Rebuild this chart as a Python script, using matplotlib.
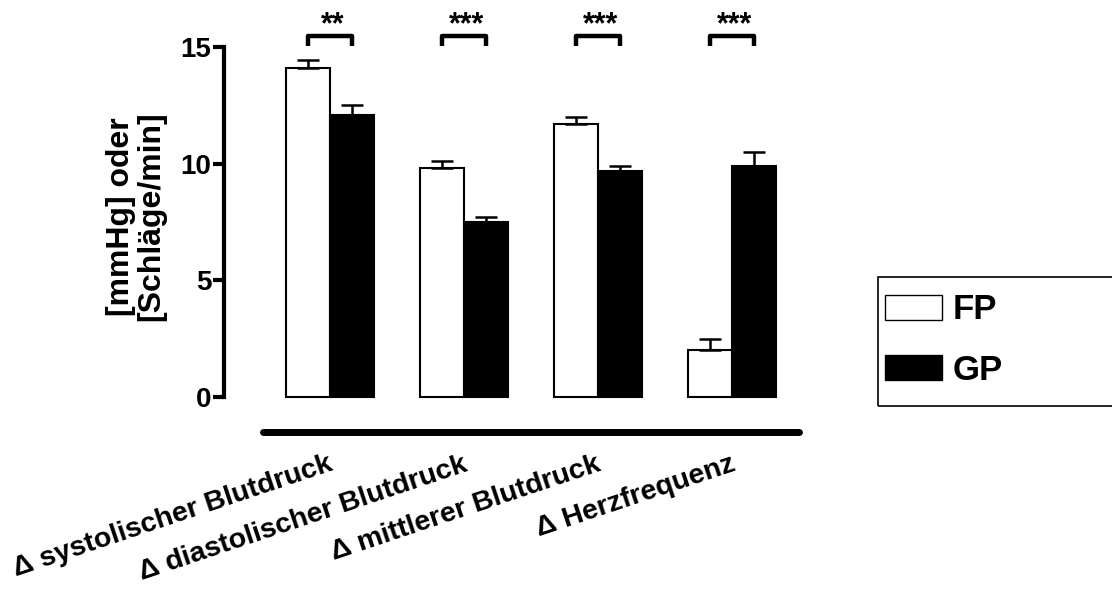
import matplotlib
matplotlib.use('Agg')
import numpy as np
import matplotlib.pyplot as plt
from matplotlib.patches import Rectangle
from matplotlib.transforms import ScaledTranslation


categories = ['\u0394 systolischer Blutdruck', '\u0394 diastolischer Blutdruck',
              '\u0394 mittlerer Blutdruck', '\u0394 Herzfrequenz']
fp_mean = [14.1, 9.8, 11.7, 2.0]
fp_sem = [0.35, 0.3, 0.3, 0.5]
gp_mean = [12.1, 7.5, 9.7, 9.9]
gp_sem = [0.4, 0.2, 0.2, 0.6]
significance = ['**', '***', '***', '***']

plt.rcParams['font.family'] = ['Liberation Sans', 'DejaVu Sans']
plt.rcParams['font.weight'] = 'bold'

fig = plt.figure(figsize=(11.12, 5.9), dpi=100)
ax = fig.add_axes([224 / 1112, 0.268, (806 - 224) / 1112, 0.731])

x = np.arange(len(categories))
w = 0.33

fp_bars = ax.bar(x - w / 2, fp_mean, w, color='white', edgecolor='black',
                 linewidth=1.5, label='FP')
gp_bars = ax.bar(x + w / 2, gp_mean, w, color='black', edgecolor='black',
                 linewidth=1.5, label='GP')

# one-sided SEM error bars
for pos, mean, sem in ((x - w / 2, fp_mean, fp_sem), (x + w / 2, gp_mean, gp_sem)):
    ax.errorbar(pos, mean, yerr=[np.zeros(len(sem)), sem], fmt='none',
                ecolor='black', elinewidth=1.8, capsize=8, capthick=1.8,
                zorder=1)

# significance brackets
for i, stars in enumerate(significance):
    ax.plot([i - w / 2, i - w / 2, i + w / 2, i + w / 2],
            [15.05, 15.5, 15.5, 15.05], color='black', lw=3.2,
            solid_capstyle='butt', clip_on=False)
    ax.text(i + 0.02, 16.1, stars, ha='center', va='center_baseline',
            fontsize=22, fontweight='bold')

ax.set_xlim(-0.79, 3.55)
ax.set_ylim(-1.5, 17)
ax.set_yticks([0, 5, 10, 15])
ax.tick_params(axis='y', length=8, width=3, labelsize=20, pad=1)
ax.set_xticks(x)
ax.set_xticklabels(categories, rotation=18.5, ha='right', va='top',
                   rotation_mode='anchor', fontsize=20.5, fontweight='bold')
ax.tick_params(axis='x', length=0, pad=14)
shift = ScaledTranslation(-2 / 100, 0, fig.dpi_scale_trans)
for lbl in ax.get_xticklabels():
    lbl.set_transform(lbl.get_transform() + shift)

for side in ('top', 'right', 'bottom'):
    ax.spines[side].set_visible(False)
ax.spines['left'].set_bounds(0, 15)
ax.spines['left'].set_linewidth(3)

# heavy baseline beneath the groups
ax.plot([-0.5, 3.5], [-1.5, -1.5], color='black', lw=5,
        solid_capstyle='round', clip_on=False)

ax.set_ylabel('[mmHg] oder\n[Schl\u00e4ge/min]', fontsize=23,
              fontweight='bold', labelpad=10, linespacing=1.05)

# legend with an open-ended frame
fig.patches.append(Rectangle((878 / 1112, 1 - 406 / 590), 0.3, 129 / 590,
                             transform=fig.transFigure, fill=False,
                             edgecolor='black', lw=1.2))
leg = fig.legend(handles=[fp_bars, gp_bars], labels=['FP', 'GP'],
                 loc='center left', bbox_to_anchor=(885 / 1112, 1 - 340 / 590),
                 frameon=False, fontsize=25, handlelength=1.65,
                 handleheight=0.75, handletextpad=0.3, labelspacing=0.78,
                 borderpad=0, borderaxespad=0)
for t in leg.get_texts():
    t.set_fontweight('bold')
for h in leg.legend_handles:
    h.set_linewidth(1)

fig.savefig('out.png', dpi=100)
